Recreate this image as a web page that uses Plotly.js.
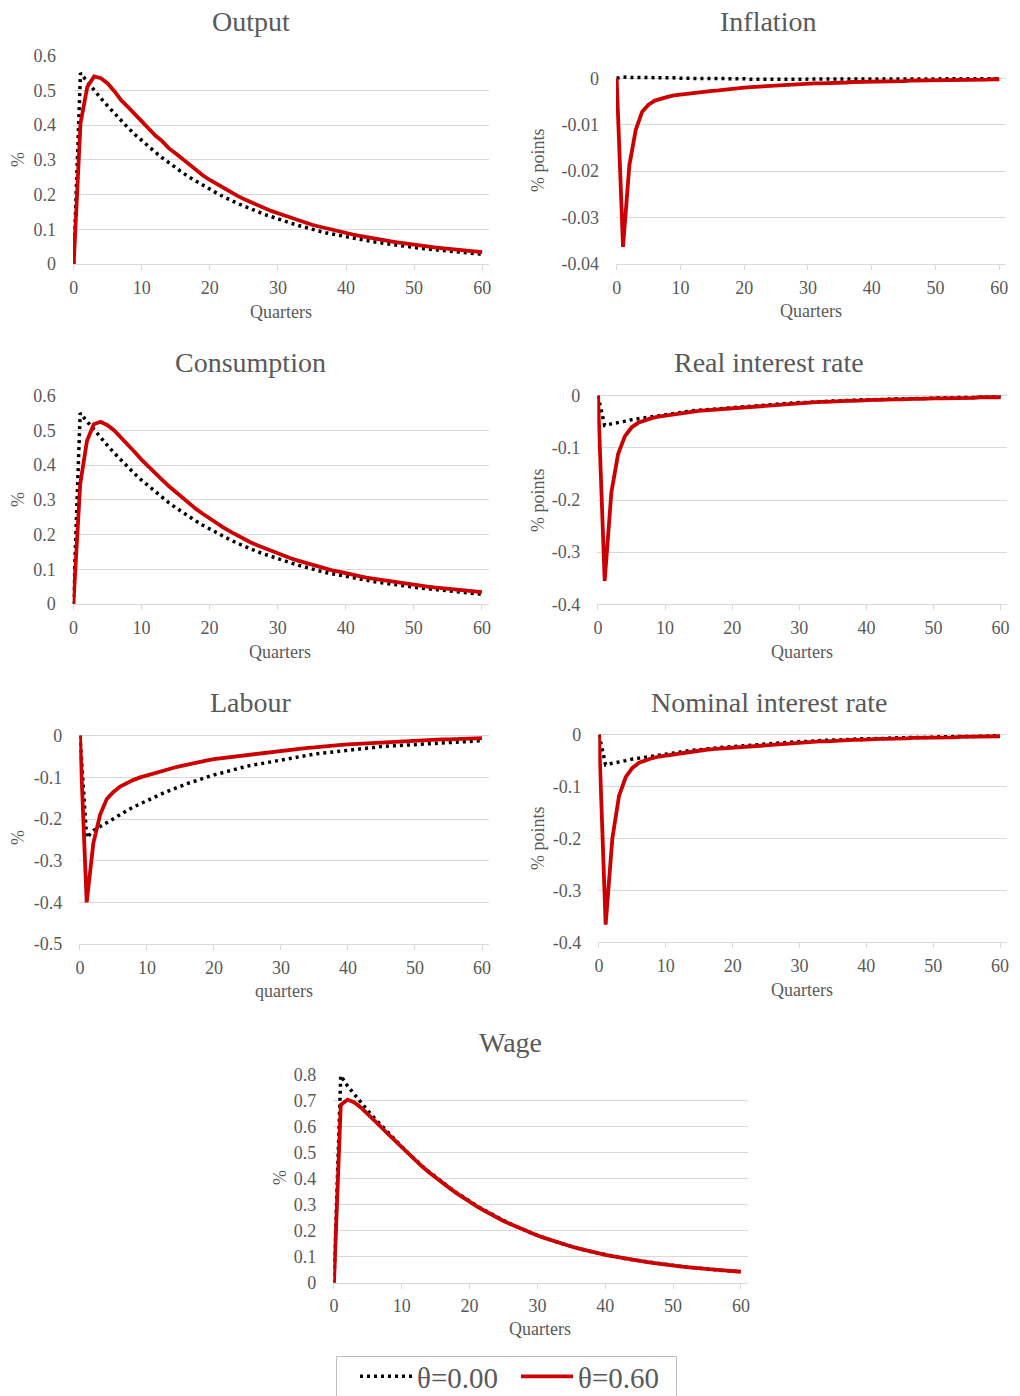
<!DOCTYPE html>
<html>
<head>
<meta charset="utf-8">
<script src="https://cdn.plot.ly/plotly-3.0.1.min.js"></script>
<style>
  html, body { margin: 0; padding: 0; background: #ffffff; }
  #chart { width: 1020px; height: 1396px; }
</style>
</head>
<body>
<div id="chart"></div>
<script>
// ---------------- DATA ----------------
const quarters = [0,1,2,3,4,5,6,7,8,9,10,11,12,13,14,15,16,17,18,19,20,21,22,23,24,25,26,27,28,29,30,31,32,33,34,35,36,37,38,39,40,41,42,43,44,45,46,47,48,49,50,51,52,53,54,55,56,57,58,59,60];

const seriesNames = ['\u03b8=0.00', '\u03b8=0.60'];

const outputTheta0 = [0,0.550,0.525,0.500,0.477,0.455,0.433,0.412,0.392,0.373,0.355,0.338,0.322,0.306,0.291,0.277,0.263,0.250,0.238,0.226,0.215,0.204,0.194,0.184,0.175,0.167,0.158,0.151,0.143,0.136,0.129,0.123,0.117,0.111,0.105,0.100,0.095,0.090,0.086,0.082,0.078,0.074,0.070,0.067,0.064,0.061,0.058,0.055,0.052,0.050,0.047,0.045,0.043,0.041,0.039,0.037,0.035,0.033,0.031,0.030,0.028];
const outputTheta60 = [0,0.405,0.510,0.540,0.535,0.520,0.497,0.471,0.452,0.432,0.410,0.392,0.370,0.354,0.333,0.318,0.302,0.285,0.270,0.255,0.242,0.230,0.218,0.207,0.197,0.187,0.178,0.169,0.161,0.153,0.146,0.139,0.132,0.126,0.119,0.113,0.108,0.103,0.098,0.093,0.089,0.085,0.081,0.077,0.073,0.070,0.067,0.064,0.061,0.058,0.055,0.053,0.050,0.048,0.046,0.044,0.042,0.040,0.038,0.036,0.034];

const inflationTheta0 = [0,0.0003,0.0002,0.0002,0.0002,0.0001,0.0001,0.0001,0.0001,0.0001,0.0000,0.0000,0.0000,-0.0001,-0.0001,-0.0001,-0.0001,-0.0001,-0.0001,-0.0001,-0.0001,-0.0002,-0.0002,-0.0002,-0.0002,-0.0002,-0.0002,-0.0002,-0.0002,-0.0002,-0.0002,-0.0002,-0.0002,-0.0002,-0.0002,-0.0002,-0.0002,-0.0002,-0.0002,-0.0002,-0.0002,-0.0002,-0.0002,-0.0002,-0.0002,-0.0002,-0.0001,-0.0001,-0.0001,-0.0001,-0.0001,-0.0001,-0.0001,-0.0001,-0.0001,-0.0001,-0.0001,-0.0001,-0.0001,-0.0001,-0.0001];
const inflationTheta60 = [0,-0.0363,-0.0187,-0.0111,-0.0072,-0.0057,-0.0048,-0.0043,-0.0040,-0.0037,-0.0035,-0.0033,-0.0031,-0.0030,-0.0028,-0.0027,-0.0026,-0.0024,-0.0023,-0.0021,-0.0020,-0.0019,-0.0018,-0.0017,-0.0016,-0.0015,-0.0014,-0.0014,-0.0013,-0.0012,-0.0012,-0.0011,-0.0011,-0.0010,-0.0010,-0.0009,-0.0009,-0.0008,-0.0008,-0.0008,-0.0007,-0.0007,-0.0007,-0.0006,-0.0006,-0.0006,-0.0005,-0.0005,-0.0005,-0.0005,-0.0004,-0.0004,-0.0004,-0.0004,-0.0004,-0.0004,-0.0003,-0.0003,-0.0003,-0.0002,-0.0002];

const consumptionTheta0 = [0,0.550,0.526,0.502,0.479,0.457,0.435,0.414,0.394,0.375,0.357,0.340,0.323,0.307,0.292,0.278,0.264,0.251,0.239,0.227,0.216,0.205,0.195,0.185,0.176,0.167,0.159,0.151,0.144,0.137,0.130,0.124,0.118,0.112,0.106,0.101,0.096,0.091,0.087,0.083,0.079,0.075,0.071,0.068,0.065,0.062,0.059,0.056,0.053,0.050,0.048,0.046,0.044,0.042,0.040,0.038,0.036,0.034,0.032,0.030,0.028];
const consumptionTheta60 = [0,0.345,0.470,0.518,0.525,0.515,0.500,0.480,0.460,0.438,0.416,0.396,0.376,0.358,0.340,0.323,0.306,0.290,0.274,0.260,0.246,0.233,0.221,0.209,0.198,0.188,0.178,0.169,0.161,0.153,0.145,0.138,0.131,0.125,0.119,0.113,0.107,0.102,0.097,0.093,0.088,0.084,0.080,0.076,0.073,0.069,0.066,0.063,0.060,0.058,0.055,0.052,0.050,0.048,0.046,0.044,0.042,0.040,0.038,0.036,0.034];

const realRateTheta0 = [0,-0.057,-0.054,-0.052,-0.049,-0.046,-0.044,-0.042,-0.040,-0.038,-0.036,-0.034,-0.032,-0.031,-0.029,-0.028,-0.027,-0.025,-0.024,-0.023,-0.022,-0.021,-0.020,-0.019,-0.018,-0.017,-0.016,-0.016,-0.015,-0.014,-0.013,-0.013,-0.012,-0.012,-0.011,-0.010,-0.010,-0.009,-0.009,-0.008,-0.008,-0.008,-0.007,-0.007,-0.006,-0.006,-0.006,-0.005,-0.005,-0.005,-0.005,-0.004,-0.004,-0.004,-0.003,-0.003,-0.003,-0.003,-0.003,-0.002,-0.002];
const realRateTheta60 = [0,-0.355,-0.185,-0.112,-0.078,-0.061,-0.052,-0.047,-0.043,-0.040,-0.038,-0.036,-0.034,-0.032,-0.031,-0.029,-0.028,-0.027,-0.026,-0.025,-0.024,-0.023,-0.022,-0.021,-0.020,-0.019,-0.018,-0.017,-0.016,-0.015,-0.014,-0.014,-0.013,-0.012,-0.012,-0.011,-0.011,-0.010,-0.010,-0.009,-0.009,-0.008,-0.008,-0.007,-0.007,-0.007,-0.006,-0.006,-0.006,-0.005,-0.005,-0.005,-0.005,-0.004,-0.004,-0.004,-0.004,-0.003,-0.003,-0.003,-0.003];

const labourTheta0 = [0,-0.245,-0.228,-0.218,-0.208,-0.198,-0.189,-0.180,-0.171,-0.163,-0.155,-0.148,-0.141,-0.134,-0.127,-0.121,-0.115,-0.110,-0.104,-0.099,-0.094,-0.090,-0.085,-0.081,-0.077,-0.073,-0.070,-0.066,-0.063,-0.060,-0.057,-0.054,-0.051,-0.049,-0.046,-0.044,-0.042,-0.040,-0.038,-0.036,-0.034,-0.032,-0.031,-0.029,-0.028,-0.026,-0.025,-0.024,-0.022,-0.021,-0.020,-0.019,-0.018,-0.017,-0.016,-0.016,-0.015,-0.014,-0.013,-0.013,-0.012];
const labourTheta60 = [0,-0.400,-0.258,-0.190,-0.152,-0.135,-0.122,-0.113,-0.106,-0.100,-0.095,-0.090,-0.086,-0.081,-0.077,-0.073,-0.069,-0.066,-0.062,-0.059,-0.056,-0.054,-0.051,-0.049,-0.047,-0.045,-0.043,-0.041,-0.039,-0.037,-0.035,-0.033,-0.032,-0.030,-0.029,-0.028,-0.026,-0.025,-0.024,-0.022,-0.021,-0.020,-0.019,-0.018,-0.017,-0.016,-0.015,-0.014,-0.013,-0.013,-0.012,-0.011,-0.011,-0.010,-0.009,-0.009,-0.008,-0.008,-0.007,-0.007,-0.006];

const nominalRateTheta0 = [0,-0.058,-0.055,-0.053,-0.050,-0.047,-0.045,-0.043,-0.041,-0.039,-0.037,-0.035,-0.033,-0.032,-0.030,-0.029,-0.027,-0.026,-0.025,-0.024,-0.023,-0.021,-0.020,-0.019,-0.018,-0.017,-0.016,-0.016,-0.015,-0.014,-0.013,-0.013,-0.012,-0.012,-0.011,-0.010,-0.010,-0.009,-0.009,-0.008,-0.008,-0.008,-0.007,-0.007,-0.006,-0.006,-0.006,-0.005,-0.005,-0.005,-0.005,-0.004,-0.004,-0.004,-0.003,-0.003,-0.003,-0.003,-0.003,-0.002,-0.002];
const nominalRateTheta60 = [0,-0.366,-0.200,-0.118,-0.082,-0.064,-0.054,-0.049,-0.045,-0.042,-0.040,-0.038,-0.036,-0.034,-0.032,-0.031,-0.029,-0.028,-0.027,-0.026,-0.025,-0.024,-0.023,-0.022,-0.021,-0.020,-0.019,-0.018,-0.017,-0.016,-0.015,-0.015,-0.014,-0.013,-0.013,-0.012,-0.011,-0.011,-0.010,-0.010,-0.009,-0.009,-0.008,-0.008,-0.008,-0.007,-0.007,-0.006,-0.006,-0.006,-0.005,-0.005,-0.005,-0.005,-0.004,-0.004,-0.004,-0.004,-0.003,-0.003,-0.003];

const wageTheta0 = [0,0.795,0.755,0.722,0.690,0.660,0.631,0.603,0.576,0.549,0.522,0.496,0.471,0.448,0.426,0.405,0.385,0.366,0.347,0.329,0.312,0.296,0.281,0.266,0.252,0.239,0.226,0.214,0.203,0.192,0.182,0.172,0.163,0.155,0.147,0.139,0.132,0.125,0.119,0.113,0.107,0.102,0.097,0.092,0.088,0.084,0.080,0.076,0.072,0.069,0.066,0.063,0.060,0.057,0.055,0.052,0.050,0.048,0.046,0.044,0.042];
const wageTheta60 = [0,0.682,0.703,0.692,0.672,0.648,0.622,0.596,0.570,0.545,0.518,0.493,0.469,0.446,0.424,0.403,0.383,0.364,0.345,0.327,0.310,0.294,0.279,0.264,0.250,0.237,0.225,0.213,0.202,0.191,0.181,0.172,0.163,0.155,0.147,0.139,0.132,0.125,0.119,0.113,0.107,0.102,0.097,0.092,0.088,0.084,0.080,0.076,0.072,0.069,0.066,0.063,0.060,0.057,0.055,0.052,0.050,0.048,0.046,0.044,0.042];

// tick labels
const xTickVals = [0,10,20,30,40,50,60];
const yTicks06 = [0,0.1,0.2,0.3,0.4,0.5,0.6];
const yTicks06Text = ['0','0.1','0.2','0.3','0.4','0.5','0.6'];
const yTicksInfl = [0,-0.01,-0.02,-0.03,-0.04];
const yTicksInflText = ['0','-0.01','-0.02','-0.03','-0.04'];
const yTicks04 = [0,-0.1,-0.2,-0.3,-0.4];
const yTicks04Text = ['0','-0.1','-0.2','-0.3','-0.4'];
const yTicks05 = [0,-0.1,-0.2,-0.3,-0.4,-0.5];
const yTicks05Text = ['0','-0.1','-0.2','-0.3','-0.4','-0.5'];
const yTicks08 = [0,0.1,0.2,0.3,0.4,0.5,0.6,0.7,0.8];
const yTicks08Text = ['0','0.1','0.2','0.3','0.4','0.5','0.6','0.7','0.8'];

const panelTitles = ['Output','Inflation','Consumption','Real interest rate','Labour','Nominal interest rate','Wage'];
const yTitles = ['%','% points','%','% points','%','% points','%'];
const xTitles = ['Quarters','Quarters','Quarters','Quarters','quarters','Quarters','Quarters'];

// ---------------- LAYOUT HELPERS ----------------
const W = 1020, H = 1396;
const FONT = '"Liberation Serif", "Times New Roman", serif';
const GREY = '#595959';
const GRID = '#d9d9d9';
const fx = p => p / W;
const fy = p => 1 - p / H;

// box = [left, top(value max), right, bottom(value min)] in pixels; padTop = extra px above top gridline
const panels = [
  {box:[73,55.7,489,264],     yr:[0,0.6],     padTop:0, tv:yTicks06,  tt:yTicks06Text,  d0:outputTheta0,      d1:outputTheta60,
   title:[250.5,22],  ytl:[18,160],  xtl:[281,312]},
  {box:[616,78.3,1005.7,264], yr:[-0.04,0],   padTop:4, tv:yTicksInfl,tt:yTicksInflText,d0:inflationTheta0,   d1:inflationTheta60,
   title:[768,22],    ytl:[538,160], xtl:[811,311]},
  {box:[72.7,395.7,488.7,604],yr:[0,0.6],     padTop:0, tv:yTicks06,  tt:yTicks06Text,  d0:consumptionTheta0, d1:consumptionTheta60,
   title:[250.5,362], ytl:[18,500],  xtl:[280,652]},
  {box:[597.3,395.7,1007.3,604.3], yr:[-0.4,0], padTop:4, tv:yTicks04, tt:yTicks04Text, d0:realRateTheta0,    d1:realRateTheta60,
   title:[769,362],   ytl:[538,500], xtl:[802,652]},
  {box:[79.3,735.7,488.7,944],yr:[-0.5,0],    padTop:4, tv:yTicks05,  tt:yTicks05Text,  d0:labourTheta0,      d1:labourTheta60,
   title:[250.5,702], ytl:[18,838],  xtl:[284,991]},
  {box:[598.3,734.7,1006.7,942.3], yr:[-0.4,0], padTop:4, tv:yTicks04, tt:yTicks04Text, d0:nominalRateTheta0, d1:nominalRateTheta60,
   title:[769,702],   ytl:[538,838], xtl:[802,990]},
  {box:[333.3,1074.3,747.7,1282.7], yr:[0,0.8], padTop:0, tv:yTicks08, tt:yTicks08Text, d0:wageTheta0,        d1:wageTheta60,
   title:[510.5,1042],ytl:[280,1178],xtl:[540,1329]}
];

const traces = [];
const layout = {
  width: W, height: H,
  margin: {l:0, r:0, t:0, b:0, pad:0, autoexpand:false},
  paper_bgcolor: '#ffffff',
  plot_bgcolor: '#ffffff',
  font: {family: FONT, color: GREY, size: 18},
  showlegend: true,
  legend: {
    orientation: 'h',
    x: fx(355), y: fy(1351), xanchor: 'left', yanchor: 'top',
    borderwidth: 0,
    font: {family: FONT, size: 29, color: GREY},
    itemwidth: 52,
    entrywidth: 94,
    bgcolor: 'rgba(255,255,255,0)'
  },
  shapes: [{
    type: 'rect', xref: 'paper', yref: 'paper',
    x0: fx(336.5), x1: fx(676.5), y0: fy(1402), y1: fy(1356.5),
    line: {color: '#bfbfbf', width: 1}, fillcolor: 'rgba(0,0,0,0)', layer: 'below'
  }],
  annotations: []
};

panels.forEach((p, i) => {
  const k = i + 1;
  const xa = 'x' + (k === 1 ? '' : k);
  const ya = 'y' + (k === 1 ? '' : k);
  traces.push({
    x: quarters, y: p.d0, type: 'scatter', mode: 'lines',
    name: seriesNames[0], legendgroup: 'a', showlegend: i === 0,
    line: {color: '#000000', width: 3.5, dash: '3px,4px'},
    xaxis: xa, yaxis: ya, hoverinfo: 'skip'
  });
  traces.push({
    x: quarters, y: p.d1, type: 'scatter', mode: 'lines',
    name: seriesNames[1], legendgroup: 'b', showlegend: i === 0,
    line: {color: '#cc0000', width: 3.8},
    xaxis: xa, yaxis: ya, hoverinfo: 'skip'
  });
  const [x0, y0, x1, y1] = p.box;
  const span = p.yr[1] - p.yr[0];
  const perPx = span / (y1 - y0);
  const yTop = y0 - p.padTop;
  layout['xaxis' + (k === 1 ? '' : k)] = {
    domain: [fx(x0), fx(x1)],
    anchor: ya,
    range: [-0.1, 61],
    tickvals: xTickVals,
    ticktext: xTickVals.map(String),
    showgrid: false, zeroline: false,
    showline: true, linecolor: GRID, linewidth: 1,
    ticks: 'outside', ticklen: 5, tickcolor: GRID, tickwidth: 1,
    ticklabelstandoff: 2,
    tickfont: {family: FONT, size: 18, color: GREY},
    fixedrange: true
  };
  layout['yaxis' + (k === 1 ? '' : k)] = {
    domain: [fy(y1), fy(yTop)],
    anchor: xa,
    range: [p.yr[0], p.yr[1] + p.padTop * perPx],
    tickvals: p.tv, ticktext: p.tt,
    showgrid: true, gridcolor: GRID, gridwidth: 1,
    zeroline: false, showline: false, ticks: '',
    ticklabelstandoff: 16,
    tickfont: {family: FONT, size: 18, color: GREY},
    fixedrange: true
  };
  layout.annotations.push({
    text: panelTitles[i], xref: 'paper', yref: 'paper',
    x: fx(p.title[0]), y: fy(p.title[1]), xanchor: 'center', yanchor: 'middle',
    showarrow: false, font: {family: FONT, size: 28, color: GREY}
  });
  layout.annotations.push({
    text: yTitles[i], xref: 'paper', yref: 'paper', textangle: -90,
    x: fx(p.ytl[0]), y: fy(p.ytl[1]), xanchor: 'center', yanchor: 'middle',
    showarrow: false, font: {family: FONT, size: 18, color: GREY}
  });
  layout.annotations.push({
    text: xTitles[i], xref: 'paper', yref: 'paper',
    x: fx(p.xtl[0]), y: fy(p.xtl[1]), xanchor: 'center', yanchor: 'middle',
    showarrow: false, font: {family: FONT, size: 18, color: GREY}
  });
});

Plotly.newPlot('chart', traces, layout, {displayModeBar: false, staticPlot: true});
</script>
</body>
</html>
